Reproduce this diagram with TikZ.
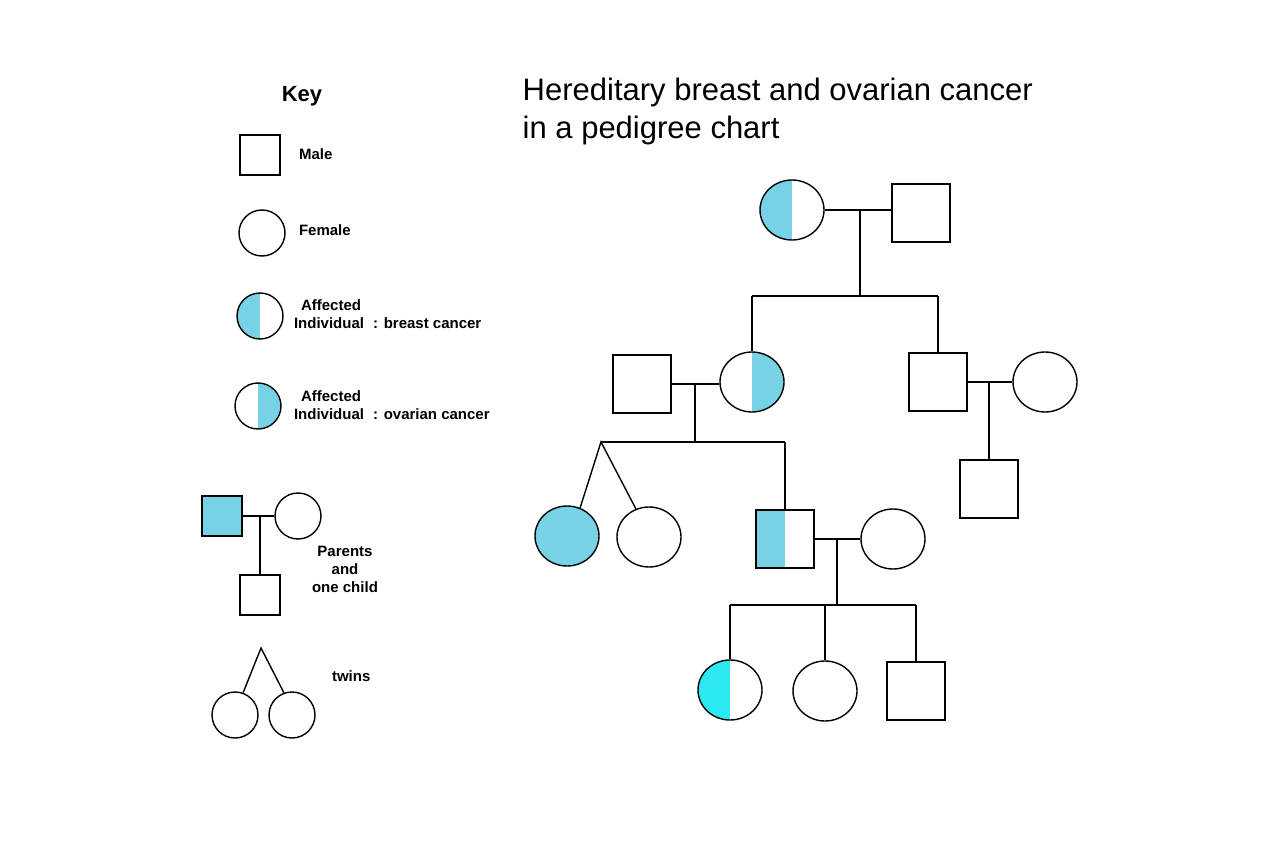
\documentclass[tikz,border=0pt]{standalone}
\usepackage{fontspec}
\setmainfont{Liberation Sans}
\usetikzlibrary{shapes.geometric}
\definecolor{aff}{HTML}{78D2E6}
\definecolor{cy}{HTML}{2CE8F0}
\begin{document}
\begin{tikzpicture}[x=1pt,y=-1pt,line width=1.4pt,
  sq/.style={draw,rectangle,minimum width=#1,minimum height=#1,inner sep=0},
  sq/.default=58pt,
  ci/.style={draw,ellipse,minimum width=64pt,minimum height=60pt,inner sep=0},
  kc/.style={draw,circle,minimum size=46pt,inner sep=0},
  ks/.style={draw,rectangle,minimum size=40pt,inner sep=0},
  halfL/.style={path picture={\fill[#1] (path picture bounding box.south west) rectangle (path picture bounding box.north);}},
  halfR/.style={path picture={\fill[#1] (path picture bounding box.south) rectangle (path picture bounding box.north east);}},
  lab/.style={font=\bfseries\fontsize{15}{18}\selectfont,align=left,anchor=west}]
\useasboundingbox (0,0) rectangle (1280,853);
% title
\node[anchor=north west,align=left,font=\fontsize{31}{38}\selectfont,inner sep=0] (title) at (522,77) {Hereditary breast and ovarian cancer\\in a pedigree chart};
% key
\node[font=\bfseries\fontsize{22}{25}\selectfont] (key) at (302,96) {Key};
\node[ks] (km) at (260,155) {};
\node[lab] (kml) at (295,154) {Male};
\node[kc] (kf) at (262,233) {};
\node[lab] (kfl) at (295,230) {Female};
\node[kc,halfL=aff] (kb) at (260,316) {};
\node[lab] (kbl) at (290,314) {\hspace*{7pt}Affected\\Individual\,\, : breast cancer};
\node[kc,halfR=aff] (ko) at (258,406) {};
\node[lab] (kol) at (290,405) {\hspace*{7pt}Affected\\Individual\,\, : ovarian cancer};
\node[ks,fill=aff] (kp1) at (222,516) {};
\node[kc] (kp2) at (298,516) {};
\coordinate (kpm) at (260,516);
\node[ks] (kc1) at (260,595) {};
\draw (kp1) -- (kp2);
\draw (kpm) -- (kc1.north);
\node[font=\bfseries\fontsize{15}{18}\selectfont,align=center] (kpl) at (345,569) {Parents\\and\\one child};
\node[kc] (kt1) at (235,715) {};
\node[kc] (kt2) at (292,715) {};
\coordinate (kta) at (261,648);
\draw (kt1.70) -- (kta) -- (kt2.110);
\node[lab] (ktl) at (328,676) {twins};
% generation 1
\node[ci,halfL=aff] (g1f) at (792,210) {};
\node[sq] (g1m) at (921,213) {};
\draw (g1f.east) -- (g1f.east -| g1m.west);
\coordinate (g1c) at (860,210);
\coordinate (s1) at (860,296);
\draw (g1c) -- (s1);
\draw (752,296) coordinate (s1l) -- (938,296) coordinate (s1r);
% generation 2
\node[sq] (g2m) at (642,384) {};
\node[ci,halfR=aff] (g2f) at (752,382) {};
\node[sq] (g2s) at (938,382) {};
\node[ci] (g2w) at (1045,382) {};
\draw (s1l) -- (s1l |- g2f.north);
\draw (s1r) -- (s1r |- g2s.north);
\draw (g2m.east) -- (g2m.east -| g2f.west);
\draw (g2s.east) -- (g2s.east -| g2w.west);
\coordinate (g2c) at (695,384);
\coordinate (s2) at (695,442);
\draw (g2c) -- (s2);
\draw (601,442) coordinate (s2l) -- (785,442) coordinate (s2r);
\coordinate (g2c2) at (989,382);
\node[sq] (g3r) at (989,489) {};
\draw (g2c2) -- (g3r.north);
% generation 3
\node[ci,fill=aff] (t1) at (567,536) {};
\node[ci] (t2) at (649,537) {};
\draw (t1.65) -- (s2l) -- (t2.115);
\node[sq,halfL=aff] (g3m) at (785,539) {};
\draw (s2r) -- (g3m.north);
\node[ci] (g3w) at (893,539) {};
\draw (g3m.east) -- (g3m.east -| g3w.west);
\coordinate (g3c) at (837,539);
\coordinate (s3) at (837,605);
\draw (g3c) -- (s3);
\draw (730,605) coordinate (s3l) -- (916,605) coordinate (s3r);
\coordinate (s3m) at (825,605);
% generation 4
\node[ci,halfL=cy] (c1) at (730,690) {};
\node[ci] (c2) at (825,691) {};
\node[sq] (c3) at (916,691) {};
\draw (s3l) -- (c1.north);
\draw (s3m) -- (c2.north);
\draw (s3r) -- (c3.north);
\end{tikzpicture}
\end{document}
